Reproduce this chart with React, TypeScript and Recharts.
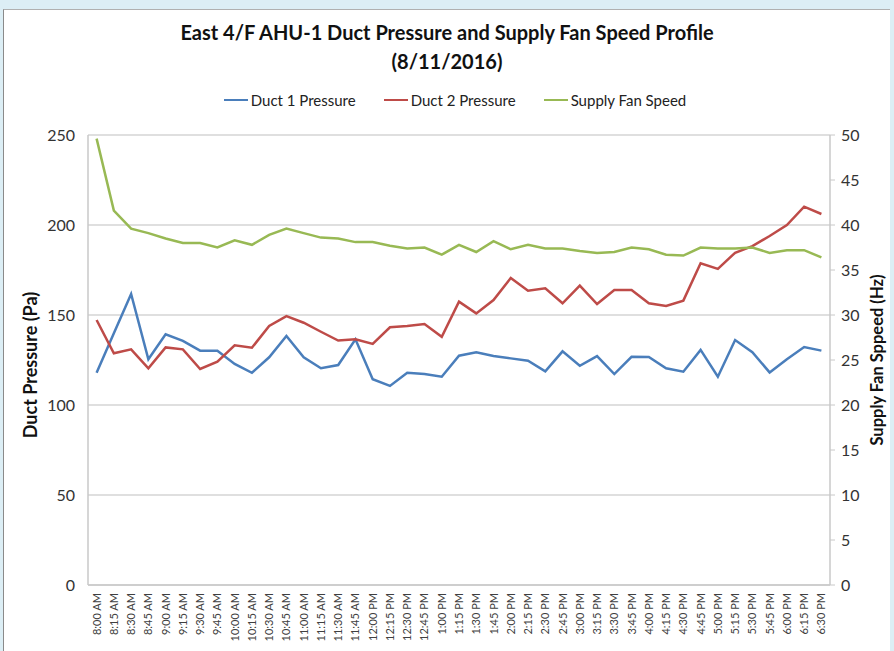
import React from 'react';
import {LineChart, Line, XAxis, YAxis, CartesianGrid} from 'recharts';

const times = [
    '8:00 AM', '8:15 AM', '8:30 AM', '8:45 AM', '9:00 AM', '9:15 AM', '9:30 AM', '9:45 AM',
    '10:00 AM', '10:15 AM', '10:30 AM', '10:45 AM', '11:00 AM', '11:15 AM', '11:30 AM', '11:45 AM',
    '12:00 PM', '12:15 PM', '12:30 PM', '12:45 PM', '1:00 PM', '1:15 PM', '1:30 PM', '1:45 PM',
    '2:00 PM', '2:15 PM', '2:30 PM', '2:45 PM', '3:00 PM', '3:15 PM', '3:30 PM', '3:45 PM',
    '4:00 PM', '4:15 PM', '4:30 PM', '4:45 PM', '5:00 PM', '5:15 PM', '5:30 PM', '5:45 PM',
    '6:00 PM', '6:15 PM', '6:30 PM',
];

const duct1 = [
    117.9, 139.8, 161.7, 125.4, 139.3, 135.6, 130.2, 130.2, 122.8, 117.9, 126.5, 138.3, 126.5, 120.4,
    122.2, 136.5, 114.3, 110.6, 117.9, 117.2, 115.7, 127.4, 129.3, 127.2, 125.9, 124.6, 118.7, 129.8,
    121.8, 127.2, 117.2, 126.8, 126.7, 120.4, 118.5, 130.6, 115.7, 136.1, 129.3, 118.1, 125.4, 132.2,
    130.2,
];

const duct2 = [
    147.2, 128.7, 130.9, 120.4, 132.0, 130.9, 120.0, 124.1, 133.2, 131.8, 143.9, 149.4, 145.7, 140.7,
    135.8, 136.5, 133.9, 143.2, 143.9, 145.0, 137.9, 157.4, 150.9, 158.3, 170.6, 163.5, 164.8, 156.5,
    166.3, 156.1, 163.9, 163.9, 156.5, 155.0, 158.0, 178.7, 175.6, 184.6, 188.3, 193.9, 200.0, 210.2,
    206.1,
];

const fanSpeed = [
    49.6, 41.6, 39.6, 39.1, 38.5, 38.0, 38.0, 37.5, 38.3, 37.8, 38.9, 39.6, 39.1, 38.6,
    38.5, 38.1, 38.1, 37.7, 37.4, 37.5, 36.7, 37.8, 37.0, 38.2, 37.3, 37.8, 37.4, 37.4,
    37.1, 36.9, 37.0, 37.5, 37.3, 36.7, 36.6, 37.5, 37.4, 37.4, 37.5, 36.9, 37.2, 37.2,
    36.4,
];

const pressureTicks = [0, 50, 100, 150, 200, 250];
const speedTicks = [0, 5, 10, 15, 20, 25, 30, 35, 40, 45, 50];

const series = [
    {key: 'duct1', name: 'Duct 1 Pressure', color: '#4a7ebb', axis: 'left'},
    {key: 'duct2', name: 'Duct 2 Pressure', color: '#be4b48', axis: 'left'},
    {key: 'fan', name: 'Supply Fan Speed', color: '#98b954', axis: 'right'},
];

const data = times.map((t, i) => ({
    time: t,
    duct1: duct1[i],
    duct2: duct2[i],
    fan: fanSpeed[i],
}));

const FONT = 'Lato, "Liberation Sans", Arial, sans-serif';

const TimeTick = (props: any) => {
    const {x, y, payload} = props;
    return (
        <text
            x={x}
            y={y}
            transform={`rotate(-90, ${x}, ${y})`}
            textAnchor="end"
            dy={4}
            fontSize={11}
            fill="#404040"
            fontFamily={FONT}
        >
            {payload.value}
        </text>
    );
};

const App = () => {
    return (
        <div style={{position: 'absolute', left: 0, top: 0, width: 894, height: 651, background: '#dceef5', fontFamily: FONT}}>
            <div style={{position: 'absolute', left: 3, top: 9, width: 886, height: 642, background: '#fff', borderLeft: '1px solid #8a8a8a', borderTop: '1px solid #b0b0b0'}}/>
            <div style={{position: 'absolute', left: 0, top: 18, width: 894, textAlign: 'center', fontWeight: 700, fontSize: 20, lineHeight: '29px', color: '#111'}}>
                East 4/F AHU-1 Duct Pressure and Supply Fan Speed Profile<br/>(8/11/2016)
            </div>
            <div style={{position: 'absolute', left: 0, top: 91, width: 894, display: 'flex', justifyContent: 'center', gap: 28, fontSize: 15, color: '#222', transform: 'translateX(8px)'}}>
                {series.map((s) => (
                    <div key={s.key} style={{display: 'flex', alignItems: 'center'}}>
                        <span style={{display: 'inline-block', width: 24, height: 2.5, background: s.color, marginRight: 3}}/>
                        {s.name}
                    </div>
                ))}
            </div>
            <div style={{position: 'absolute', left: 30, top: 365, transform: 'translate(-50%, -50%) rotate(-90deg)', fontWeight: 700, fontSize: 18, whiteSpace: 'nowrap', color: '#111'}}>
                Duct Pressure (Pa)
            </div>
            <div style={{position: 'absolute', left: 877, top: 360, transform: 'translate(-50%, -50%) rotate(-90deg)', fontWeight: 700, fontSize: 16.5, whiteSpace: 'nowrap', color: '#111'}}>
                Supply Fan Sppeed (Hz)
            </div>
            <div style={{position: 'absolute', left: 0, top: 0}}>
                <LineChart
                    width={894}
                    height={651}
                    data={data}
                    margin={{top: 135, bottom: 0, left: 28, right: 24}}
                >
                    <CartesianGrid vertical={false} stroke="#d4d4d4" strokeWidth={1.5} yAxisId="left"/>
                    <XAxis
                        dataKey="time"
                        interval={0}
                        height={66}
                        padding={{left: 8.6, right: 8.6}}
                        tick={<TimeTick/>}
                        tickLine={false}
                        axisLine={{stroke: '#c8c8c8', strokeWidth: 1.5}}
                    />
                    <YAxis
                        yAxisId="left"
                        domain={[0, 250]}
                        ticks={pressureTicks}
                        width={60}
                        tickLine={false}
                        axisLine={{stroke: '#c8c8c8', strokeWidth: 1.5}}
                        tick={{fontSize: 16, fill: '#333', fontFamily: FONT}}
                        tickMargin={7}
                    />
                    <YAxis
                        yAxisId="right"
                        orientation="right"
                        domain={[0, 50]}
                        ticks={speedTicks}
                        width={40}
                        tickSize={5}
                        tickLine={{stroke: '#c8c8c8'}}
                        axisLine={{stroke: '#c8c8c8', strokeWidth: 1.5}}
                        tick={{fontSize: 16, fill: '#333', fontFamily: FONT}}
                        tickMargin={6}
                    />
                    {series.map((s) => (
                        <Line
                            key={s.key}
                            yAxisId={s.axis}
                            dataKey={s.key}
                            name={s.name}
                            stroke={s.color}
                            strokeWidth={2.5}
                            dot={false}
                            activeDot={false}
                            type="linear"
                            isAnimationActive={false}
                        />
                    ))}
                </LineChart>
            </div>
        </div>
    );
};

export default App;
